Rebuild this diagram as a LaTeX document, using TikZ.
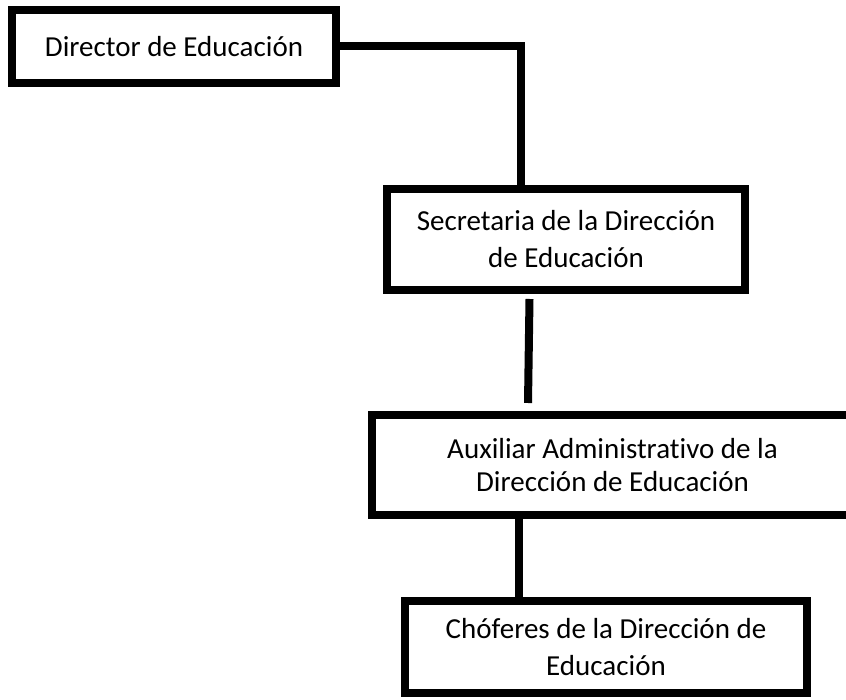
\documentclass[tikz,border=0pt]{standalone}
\usepackage{fontspec}
\setmainfont[Ligatures=NoCommon]{Carlito}
\begin{document}
\begin{tikzpicture}[x=1pt,y=-1pt,
  caja/.style={draw,line width=8pt,align=center,inner sep=0pt,
    font=\fontsize{29}{37}\selectfont},
  linea/.style={line width=8pt}]

  \useasboundingbox (0,0) rectangle (846,700);
  \clip (0,0) rectangle (846,700);

  \node[caja,minimum width=324pt,minimum height=73pt] (dir) at (174,46.5)
    {Director de Educación};
  \node[caja,minimum width=358pt,minimum height=101pt] (sec) at (566,239.5)
    {Secretaria de la Dirección\\de Educación};
  \node[caja,minimum width=481pt,minimum height=100pt,
    font=\fontsize{29}{33}\selectfont] (aux) at (612.5,465)
    {Auxiliar Administrativo de la\\Dirección de Educación};
  \node[caja,minimum width=402pt,minimum height=92pt] (cho) at (606,647)
    {Chóferes de la Dirección de\\Educación};

  % conectores
  \coordinate (esq) at (521,46.5);
  \draw[linea] (dir.east) -- (esq) -- (esq |- sec.north);

  \coordinate (s2) at (529.5,299);
  \coordinate (a2) at (528,403);
  \draw[linea] (s2) -- (a2);

  \coordinate (c3) at (518.5,0);
  \draw[linea] (c3 |- aux.south) -- (c3 |- cho.north);
\end{tikzpicture}
\end{document}
